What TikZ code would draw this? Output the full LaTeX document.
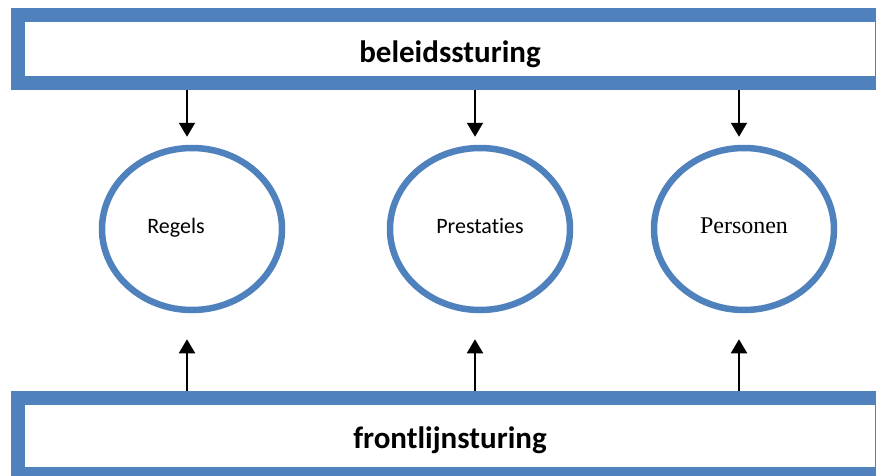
\documentclass[tikz,border=0pt]{standalone}
\usepackage{fontspec}
\setmainfont{Carlito}[Ligatures=NoCommon]
\newfontfamily\timesletter{Liberation Serif}
\usetikzlibrary{shapes.geometric,arrows.meta,calc}
\definecolor{kaderblauw}{HTML}{4F81BD}

\begin{document}
\begin{tikzpicture}[x=1pt, y=-1pt, >={Triangle[length=14pt,width=16pt]},
    kader/.style={draw=kaderblauw, line width=14pt, minimum width=864pt,
        inner sep=0pt, text depth=0pt, font=\bfseries\fontsize{31}{36}\selectfont},
    bol/.style={ellipse, draw=kaderblauw, line width=6.5pt, minimum width=180pt,
        minimum height=162pt, inner sep=0pt, text height=8pt, text depth=0pt,
        font=\fontsize{22}{26}\selectfont},
    pijl/.style={->, line width=2pt}]
    % --- canvas ---
    \path[use as bounding box] (0,0) rectangle (876,475);
    \clip (0,0) rectangle (876,475);

    % =========================================
    % STURING (boven en onder)
    % =========================================
    \node[kader, minimum height=68pt, text height=26pt] (beleid) at (450,49) {beleidssturing};
    \node[kader, minimum height=76pt, text height=24pt] (frontlijn) at (450,436) {frontlijnsturing};

    % =========================================
    % DRIE BOLLEN
    % =========================================
    \node[bol] (regels) at (192,229) {\kern-32pt Regels};
    \node[bol] (prestaties) at (480,229) {Prestaties};
    \node[bol, font=\timesletter\fontsize{24}{28}\selectfont] (personen) at (744,229) {Personen};

    % Pijlen naar de bollen
    \foreach \bol in {regels, prestaties, personen} {
        \draw[pijl] ($(beleid.south -| \bol.north)+(-5,0)$) -- ($(\bol.north)+(-5,-8)$);
        \draw[pijl] ($(frontlijn.north -| \bol.south)+(-5,0)$) -- ($(\bol.south)+(-5,26)$);
    }
\end{tikzpicture}
\end{document}
